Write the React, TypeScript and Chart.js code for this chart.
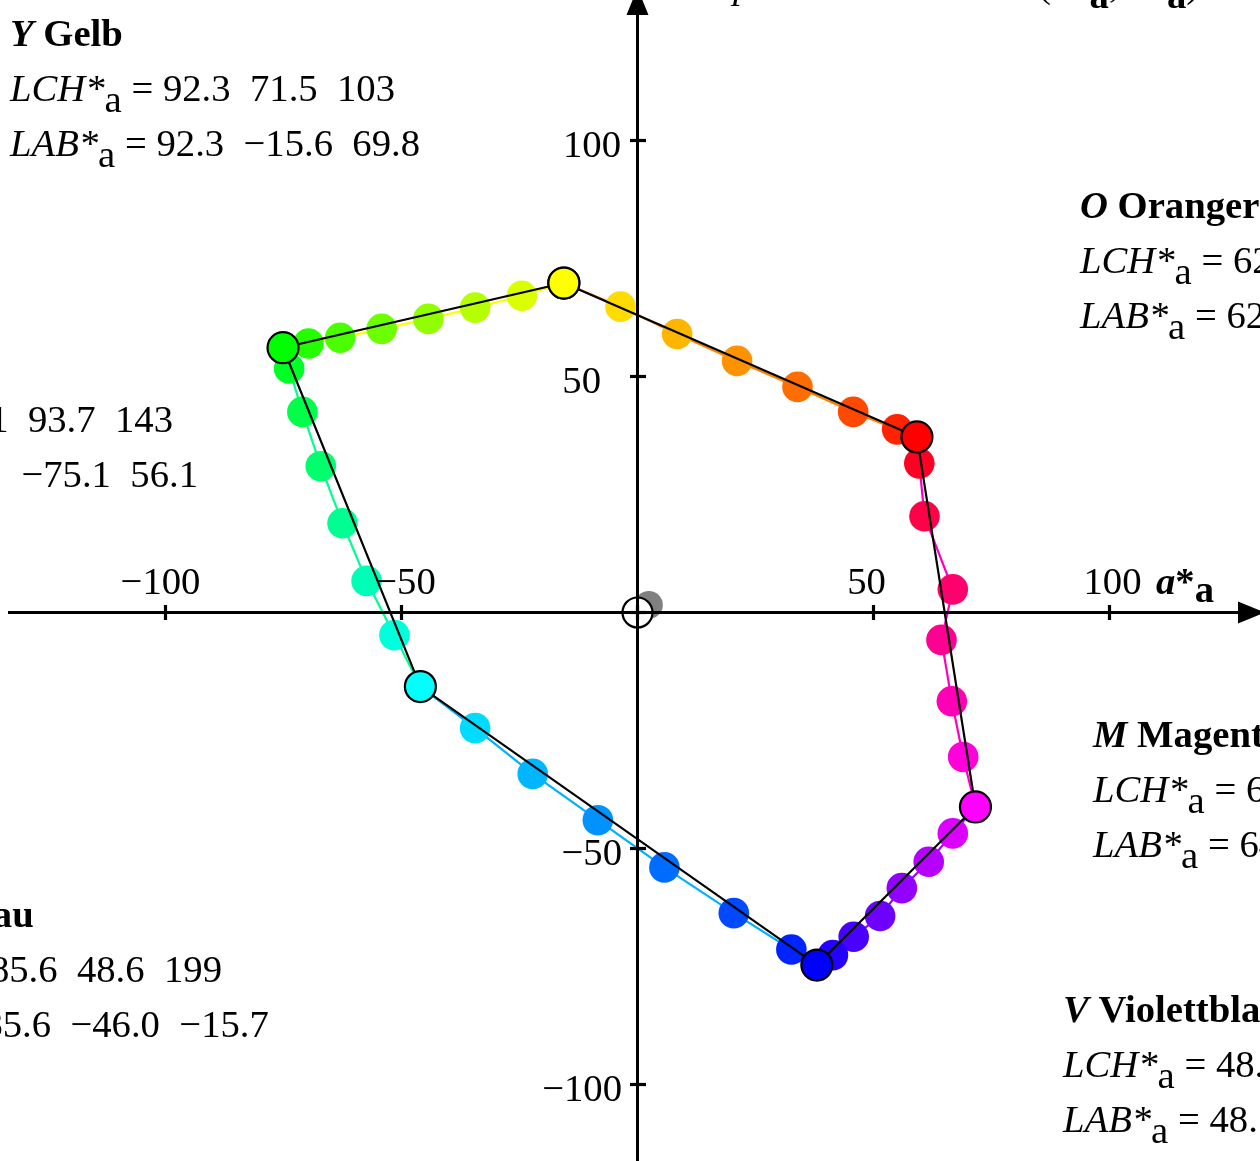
import React, { useEffect, useRef } from 'react';
import { Chart, registerables } from 'chart.js';

Chart.register(...registerables);

// ---------- data ----------
// Primary colours (large circles): Y, O, M, V, C, G  (a*_a, b*_a)
const primaryNames = ['Y', 'O', 'M', 'V', 'C', 'G'];
const primaryA = [-15.6, 59.2, 71.6, 38.0, -46.0, -75.1];
const primaryB = [69.8, 37.2, -41.2, -74.7, -15.7, 56.1];
const primaryColors = ['#ffff00', '#ff0000', '#ff00ff', '#0000ff', '#00ffff', '#00ff00'];

// Hue steps around the loop, starting at Y and going Y->O->M->V->C->G->Y
const loopA = [
  -15.6, -3.6, 8.4, 21.1, 33.9, 45.7, 55.0,
  59.2, 59.7, 60.8, 66.8, 64.4, 66.6, 69.0,
  71.6, 66.8, 61.7, 56.0, 51.4, 45.8, 41.4,
  38.0, 32.6, 20.4, 5.7, -8.4, -22.2, -34.4,
  -46.0, -51.5, -57.4, -62.5, -67.1, -71.0, -73.8,
  -75.1, -69.7, -63.0, -54.2, -44.3, -34.4, -24.5,
  -15.6,
];
const loopB = [
  69.8, 64.8, 59.0, 53.3, 47.8, 42.5, 38.8,
  37.2, 31.6, 20.4, 4.9, -5.8, -18.8, -30.6,
  -41.2, -46.8, -52.8, -58.4, -64.3, -68.7, -72.6,
  -74.7, -71.4, -63.7, -54.0, -44.0, -34.2, -24.5,
  -15.7, -4.8, 6.7, 18.9, 31.0, 42.5, 51.7,
  56.1, 57.0, 58.2, 60.1, 62.2, 64.6, 67.1,
  69.8,
];
const loopColors = [
  '#ffff00', '#ffdb00', '#ffb600', '#ff9200', '#ff6d00', '#ff4900', '#ff2400',
  '#ff0000', '#ff0024', '#ff0049', '#ff006d', '#ff0092', '#ff00b6', '#ff00db',
  '#ff00ff', '#db00ff', '#b600ff', '#9200ff', '#6d00ff', '#4900ff', '#2400ff',
  '#0000ff', '#0024ff', '#0049ff', '#006dff', '#0092ff', '#00b6ff', '#00dbff',
  '#00ffff', '#00ffdb', '#00ffb6', '#00ff92', '#00ff6d', '#00ff49', '#00ff24',
  '#00ff00', '#24ff00', '#49ff00', '#6dff00', '#92ff00', '#b6ff00', '#dbff00',
  '#ffff00',
];
// colour of the thin connecting line in each segment (Y-O, O-M, M-V, V-C, C-G, G-Y)
const segmentLineColors = ['#ff8000', '#ff00c0', '#a000ff', '#00b0ff', '#00ff90', '#ffff00'];

// neutral grey sample and origin marker
const greyA = [2.4];
const greyB = [1.6];
const originA = [0];
const originB = [0];

// axes ticks
const xTickValues = [-100, -50, 0, 50, 100];
const yTickValues = [-100, -50, 0, 50, 100];
const xTickLabels = ['\u2212100', '\u221250', '', '50', '100'];
const yTickLabels = ['\u2212100', '\u221250', '', '50', '100'];

// text blocks
const blockTitleLetter = ['Y', 'O', 'M', 'V', 'C', 'G'];
const blockTitleName = ['Gelb', 'Orangerot', 'Magentarot', 'Violettblau', 'Cyanblau', 'Grün'];
const blockLCH = [
  '92.3  71.5  103',
  '62.5  69.9  32',
  '64.5  82.6  330',
  '48.5  83.8  297',
  '85.6  48.6  199',
  '81.1  93.7  143',
];
const blockLAB = [
  '92.3  \u221215.6  69.8',
  '62.5  59.2  37.2',
  '64.5  71.6  \u221241.2',
  '48.5  38.0  \u221274.7',
  '85.6  \u221246.0  \u221215.7',
  '81.1  \u221275.1  56.1',
];

// ---------- layout / style ----------
const W = 1260;
const H = 1161;
const PX_PER_UNIT = 4.72;
const ORIGIN_X = 637.5;
const ORIGIN_Y = 612.5;
const X_MIN = -ORIGIN_X / PX_PER_UNIT;
const X_MAX = (W - ORIGIN_X) / PX_PER_UNIT;
const Y_MAX = ORIGIN_Y / PX_PER_UNIT;
const Y_MIN = -(H - ORIGIN_Y) / PX_PER_UNIT;

const FONT = "'Liberation Serif', 'Times New Roman', Times, serif";
const FS = 38.7;

const blockPos: { x?: number; lchRight?: number; base: number }[] = [
  { x: 10, base: 46 },
  { x: 1080, base: 218 },
  { x: 1093, base: 747 },
  { x: 1063, base: 1022 },
  { lchRight: 222, base: 927 },
  { lchRight: 173, base: 377 },
];

type Run = { t: string; s?: string; dy?: number };

function setFont(ctx: CanvasRenderingContext2D, s?: string) {
  ctx.font = `${s || ''} ${FS}px ${FONT}`.trim();
}
function runsWidth(ctx: CanvasRenderingContext2D, runs: Run[]) {
  let w = 0;
  for (const r of runs) {
    setFont(ctx, r.s);
    w += ctx.measureText(r.t).width;
  }
  return w;
}
function drawRuns(ctx: CanvasRenderingContext2D, x: number, y: number, runs: Run[]) {
  for (const r of runs) {
    setFont(ctx, r.s);
    ctx.fillText(r.t, x, y + (r.dy || 0));
    x += ctx.measureText(r.t).width;
  }
  return x;
}

const SUB = 11;

const diagramPlugin = {
  id: 'diagram',
  afterDatasetsDraw(chart: any) {
    const ctx: CanvasRenderingContext2D = chart.ctx;
    const xs = chart.scales.x;
    const ys = chart.scales.y;
    const px = (v: number) => xs.getPixelForValue(v);
    const py = (v: number) => ys.getPixelForValue(v);
    const x0 = px(0);
    const y0 = py(0);

    ctx.save();
    ctx.strokeStyle = '#000';
    ctx.fillStyle = '#000';
    ctx.lineWidth = 3;
    ctx.lineCap = 'butt';

    // x axis
    const xStart = 8;
    const xTip = W + 5;
    const arrowLen = 27;
    const arrowHalf = 11;
    ctx.beginPath();
    ctx.moveTo(xStart, y0);
    ctx.lineTo(xTip - arrowLen + 2, y0);
    ctx.stroke();
    ctx.beginPath();
    ctx.moveTo(xTip, y0);
    ctx.lineTo(xTip - arrowLen, y0 - arrowHalf);
    ctx.lineTo(xTip - arrowLen, y0 + arrowHalf);
    ctx.closePath();
    ctx.fill();

    // y axis
    const yTip = -12;
    ctx.beginPath();
    ctx.moveTo(x0, H + 5);
    ctx.lineTo(x0, yTip + arrowLen - 2);
    ctx.stroke();
    ctx.beginPath();
    ctx.moveTo(x0, yTip);
    ctx.lineTo(x0 - arrowHalf, yTip + arrowLen);
    ctx.lineTo(x0 + arrowHalf, yTip + arrowLen);
    ctx.closePath();
    ctx.fill();

    // ticks
    ctx.lineWidth = 3.2;
    xTickValues.forEach((v) => {
      const x = px(v);
      ctx.beginPath();
      ctx.moveTo(x, y0 - 7.5);
      ctx.lineTo(x, y0 + 7.5);
      ctx.stroke();
    });
    yTickValues.forEach((v) => {
      const y = py(v);
      ctx.beginPath();
      ctx.moveTo(x0 - 7.5, y);
      ctx.lineTo(x0 + 8.5, y);
      ctx.stroke();
    });

    // tick labels
    setFont(ctx, '');
    ctx.textBaseline = 'alphabetic';
    const xLabelShift: Record<string, number> = { '-100': -5, '-50': 4, '50': -7, '100': 3 };
    xTickValues.forEach((v, i) => {
      const t = xTickLabels[i];
      if (!t) return;
      ctx.textAlign = 'center';
      ctx.fillText(t, px(v) + (xLabelShift[String(v)] || 0), y0 - 19);
    });
    const yLabelRight: Record<string, number> = { '100': 621, '50': 601, '-50': 622, '-100': 622 };
    yTickValues.forEach((v, i) => {
      const t = yTickLabels[i];
      if (!t) return;
      ctx.textAlign = 'right';
      ctx.fillText(t, yLabelRight[String(v)], py(v) + 16);
    });
    ctx.textAlign = 'left';

    // axis name a*_a
    drawRuns(ctx, 1156, y0 - 19, [
      { t: 'a', s: 'italic bold' },
      { t: '*', s: 'bold' },
      { t: 'a', s: 'bold', dy: SUB - 3 },
    ]);

    // title (only lower part inside the picture)
    drawRuns(ctx, 733, -2, [{ t: 'p', s: 'italic' }]);
    drawRuns(ctx, 1038, -3, [
      { t: '(', s: '' },
      { t: 'a', s: 'italic bold' },
      { t: '*', s: 'bold' },
      { t: 'a', s: 'bold', dy: SUB },
      { t: ', ', s: '' },
      { t: 'b', s: 'italic bold' },
      { t: '*', s: 'bold' },
      { t: 'a', s: 'bold', dy: SUB },
      { t: ')', s: '' },
    ]);

    // text blocks
    blockTitleLetter.forEach((letter, i) => {
      const pos = blockPos[i];
      const titleRuns: Run[] = [
        { t: letter, s: 'italic bold' },
        { t: ' ' + blockTitleName[i], s: 'bold' },
      ];
      const lchRuns: Run[] = [
        { t: 'LCH*', s: 'italic' },
        { t: 'a', s: '', dy: SUB },
        { t: ' = ' + blockLCH[i], s: '' },
      ];
      const labRuns: Run[] = [
        { t: 'LAB*', s: 'italic' },
        { t: 'a', s: '', dy: SUB },
        { t: ' = ' + blockLAB[i], s: '' },
      ];
      let x = pos.x ?? 0;
      if (pos.lchRight !== undefined) x = pos.lchRight - runsWidth(ctx, lchRuns);
      drawRuns(ctx, x, pos.base, titleRuns);
      drawRuns(ctx, x, pos.base + 55, lchRuns);
      drawRuns(ctx, x, pos.base + 110, labRuns);
    });

    ctx.restore();
  },
};

export default function App() {
  const ref = useRef<HTMLCanvasElement | null>(null);

  useEffect(() => {
    if (!ref.current) return;
    const loopPts = loopA.map((a, i) => ({ x: a, y: loopB[i] }));
    const primPts = primaryA.map((a, i) => ({ x: a, y: primaryB[i] }));
    primPts.push({ x: primaryA[0], y: primaryB[0] });
    const primCols = [...primaryColors, primaryColors[0]];

    const chart = new Chart(ref.current, {
      type: 'scatter',
      data: {
        datasets: [
          {
            label: 'Hauptfarben ' + primaryNames.join(''),
            data: primPts,
            showLine: true,
            borderColor: '#000',
            borderWidth: 2.2,
            pointRadius: 15.5,
            pointBorderWidth: 2.2,
            pointBorderColor: '#000',
            pointBackgroundColor: primCols,
            clip: false,
          } as any,
          {
            label: 'Bunttonstufen',
            data: loopPts,
            showLine: true,
            borderWidth: 2.2,
            borderColor: loopColors[0],
            segment: {
              borderColor: (c: any) => segmentLineColors[Math.floor(c.p0DataIndex / 7) % 6],
            },
            pointRadius: 15.3,
            pointBorderWidth: 0,
            pointBackgroundColor: loopColors,
            pointBorderColor: loopColors,
            clip: false,
          } as any,
          {
            label: 'Ursprung',
            data: originA.map((a, i) => ({ x: a, y: originB[i] })),
            showLine: false,
            pointRadius: 15,
            pointBorderWidth: 2.2,
            pointBorderColor: '#000',
            pointBackgroundColor: '#ffffff',
          } as any,
          {
            label: 'Grau',
            data: greyA.map((a, i) => ({ x: a, y: greyB[i] })),
            showLine: false,
            pointRadius: 14,
            pointBorderWidth: 0,
            pointBackgroundColor: '#808080',
            pointBorderColor: '#808080',
          } as any,
        ],
      },
      options: {
        animation: false,
        responsive: false,
        maintainAspectRatio: false,
        devicePixelRatio: 1,
        events: [],
        layout: { padding: 0, autoPadding: false },
        plugins: {
          legend: { display: false },
          tooltip: { enabled: false },
          title: { display: false },
        },
        scales: {
          x: { type: 'linear', min: X_MIN, max: X_MAX, display: false },
          y: { type: 'linear', min: Y_MIN, max: Y_MAX, display: false },
        },
      },
      plugins: [diagramPlugin],
    } as any);

    return () => chart.destroy();
  }, []);

  return (
    <div style={{ position: 'absolute', left: 0, top: 0, width: W, height: H, overflow: 'hidden', background: '#fff' }}>
      <canvas ref={ref} width={W} height={H} style={{ display: 'block', width: W, height: H }} />
    </div>
  );
}
